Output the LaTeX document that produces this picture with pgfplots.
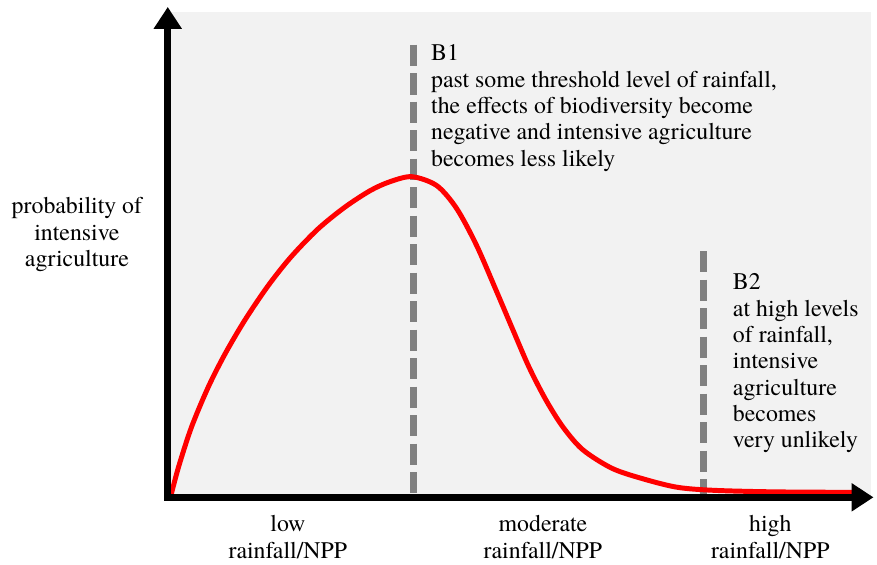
\documentclass[border=0pt]{standalone}
\usepackage{pgfplots}
\pgfplotsset{compat=1.18}
\usepackage{fontspec}
\setmainfont{texgyretermes}[Extension=.otf, UprightFont=*-regular, BoldFont=*-bold, ItalicFont=*-italic, BoldItalicFont=*-bolditalic]
\usetikzlibrary{arrows.meta}
\definecolor{bggray}{RGB}{242,242,242}
\definecolor{dashgray}{RGB}{128,128,128}
\begin{document}
\begin{tikzpicture}[font=\rmfamily\fontsize{12pt}{13.3pt}\selectfont]
\begin{axis}[
  scale only axis,
  width=354pt, height=250.5pt,
  xmin=0, xmax=708, ymin=0, ymax=501,
  hide axis, clip=false,
]
\path (axis cs:-169,-68) rectangle (axis cs:708,501);
\fill[bggray] (axis cs:3,1) rectangle (axis cs:708,489);
% dashed threshold lines
\addplot[dashgray, line width=3.5pt, dash pattern=on 10.75pt off 3.6pt] coordinates {(248,456) (248,0)};
\addplot[dashgray, line width=3.5pt, dash pattern=on 10.75pt off 3.6pt] coordinates {(540,248) (540,0)};
% red curve
\addplot[red, line width=2.5pt, smooth] coordinates {
(3,1) (11,31) (24,71) (41,111.5) (58,145) (78,179) (101,213) (124,242)
(151,270) (178,292) (204,309) (224,318) (246,323)
(271,314) (291,291) (311,254) (331,208) (348,168) (364,131) (381,98)
(398,71) (418,48) (448,29) (481,18) (514,10) (551,7) (611,5.5) (691,5)
};
% axes
\draw[line width=3.5pt, -{Triangle[length=11pt,width=13.5pt]}] (axis cs:0,-3.5) -- (axis cs:0,494);
\draw[line width=3.5pt, -{Triangle[length=11pt,width=13.5pt]}] (axis cs:-3.5,0) -- (axis cs:711,0);
% B1 text
\node[anchor=base west, inner sep=0pt] at (axis cs:265,440) {B1};
\node[anchor=base west, inner sep=0pt] at (axis cs:265,413) {past some threshold level of rainfall,};
\node[anchor=base west, inner sep=0pt] at (axis cs:265,386.5) {the effects of biodiversity become};
\node[anchor=base west, inner sep=0pt] at (axis cs:265,360) {negative and intensive agriculture};
\node[anchor=base west, inner sep=0pt] at (axis cs:265,333.5) {becomes less likely};
% B2 text
\node[anchor=base west, inner sep=0pt] at (axis cs:569,209) {B2};
\node[anchor=base west, inner sep=0pt] at (axis cs:569,182.5) {at high levels};
\node[anchor=base west, inner sep=0pt] at (axis cs:569,156) {of rainfall,};
\node[anchor=base west, inner sep=0pt] at (axis cs:569,129.5) {intensive};
\node[anchor=base west, inner sep=0pt] at (axis cs:569,103) {agriculture};
\node[anchor=base west, inner sep=0pt] at (axis cs:569,76.5) {becomes};
\node[anchor=base west, inner sep=0pt] at (axis cs:569,50) {very unlikely};
% y label
\node[anchor=base, inner sep=0pt] at (axis cs:-91.5,286) {probability of};
\node[anchor=base, inner sep=0pt] at (axis cs:-91.5,259) {intensive};
\node[anchor=base, inner sep=0pt] at (axis cs:-91.5,233) {agriculture};
% x labels
\node[anchor=base, inner sep=0pt] at (axis cs:121,-34) {low};
\node[anchor=base, inner sep=0pt] at (axis cs:121,-62) {rainfall/NPP};
\node[anchor=base, inner sep=0pt] at (axis cs:378,-34) {moderate};
\node[anchor=base, inner sep=0pt] at (axis cs:378,-62) {rainfall/NPP};
\node[anchor=base, inner sep=0pt] at (axis cs:607,-34) {high};
\node[anchor=base, inner sep=0pt] at (axis cs:607,-62) {rainfall/NPP};
\end{axis}
\end{tikzpicture}
\end{document}
